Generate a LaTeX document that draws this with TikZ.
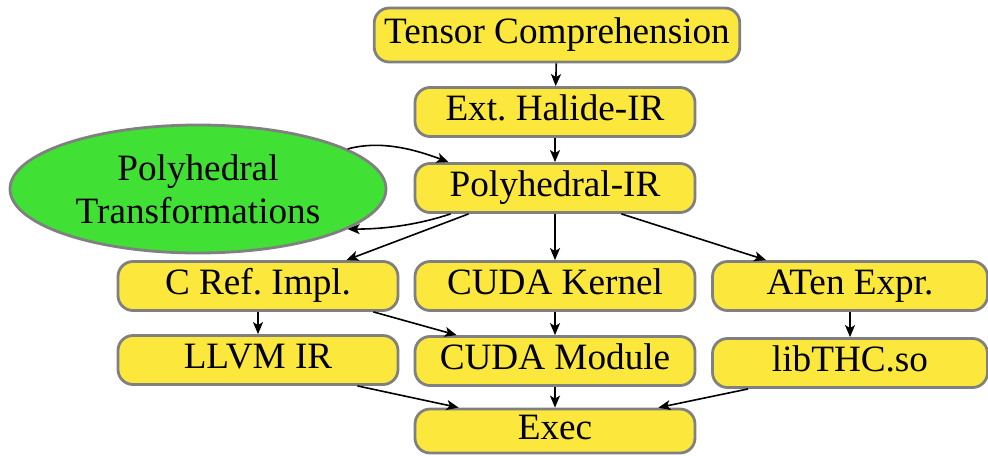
\documentclass[tikz,border=0pt]{standalone}
\usepackage{fontspec}
\setmainfont{Liberation Serif}
\usetikzlibrary{shapes.geometric,arrows.meta}
\definecolor{boxyellow}{RGB}{252,232,60}
\definecolor{ellgreen}{RGB}{64,224,52}
\definecolor{edgegray}{RGB}{128,128,128}
\begin{document}
\begin{tikzpicture}[x=0.5pt,y=-0.5pt,
  box/.style={draw=edgegray,line width=1.4pt,fill=boxyellow,rounded corners=7.5pt,
    minimum width=140pt,minimum height=24.5pt,inner xsep=5pt,inner ysep=0pt,
    text height=12.3pt,text depth=4pt,font=\fontsize{18.6}{21.5}\selectfont\frenchspacing},
  ell/.style={draw=edgegray,line width=1.4pt,fill=ellgreen,ellipse,
    minimum width=188pt,minimum height=64pt,inner sep=0pt,align=center,
    font=\fontsize{18.6}{21.5}\selectfont},
  arr/.style={line width=0.8pt,-{Stealth[length=6pt,width=5pt,inset=1.5pt]}}]
\useasboundingbox (0,0) rectangle (988,455);
\node[box,minimum height=27pt] (tc) at (557,35) {Tensor Comprehension};
\node[box] (eh) at (555,112) {Ext. Halide-IR};
\node[box] (pir) at (555,188) {Polyhedral-IR};
\node[ell] (pt) at (198,189) {Polyhedral\\Transformations};
\node[box] (cref) at (258,286) {C Ref. Impl.};
\node[box] (ck) at (555,286) {CUDA Kernel};
\node[box,minimum width=137.5pt] (aten) at (850,286) {ATen Expr.};
\node[box] (llvm) at (258,360) {LLVM IR};
\node[box] (cm) at (555,361) {CUDA Module};
\node[box,minimum width=137.5pt] (lib) at (850,363) {libTHC.so};
\node[box,minimum height=22pt] (exec) at (555,431) {Exec};
\draw[arr] (tc) -- (eh);
\draw[arr] (eh) -- (pir);
\draw[arr] (pt.15) .. controls +(30,-8) and +(-40,-15) .. ([xshift=17.5pt]pir.north west);
\draw[arr] ([xshift=18.5pt]pir.south west) .. controls +(-30,10) and +(40,0) .. (pt.-15);
\draw[arr] ([xshift=27.5pt]pir.south west) -- ([xshift=-26.5pt]cref.north east);
\draw[arr] (pir) -- (ck);
\draw[arr] ([xshift=-37.5pt]pir.south east) -- ([xshift=27.5pt]aten.north west);
\draw[arr] (cref) -- (llvm);
\draw[arr] ([xshift=-13pt]cref.south east) -- ([xshift=21.5pt]cm.north west);
\draw[arr] (ck) -- (cm);
\draw[arr] (aten) -- (lib);
\draw[arr] ([xshift=-21pt]llvm.south east) -- ([xshift=22.5pt]exec.north west);
\draw[arr] (cm) -- (exec);
\draw[arr] ([xshift=18.5pt]lib.south west) -- ([xshift=-19pt]exec.north east);
\end{tikzpicture}
\end{document}
